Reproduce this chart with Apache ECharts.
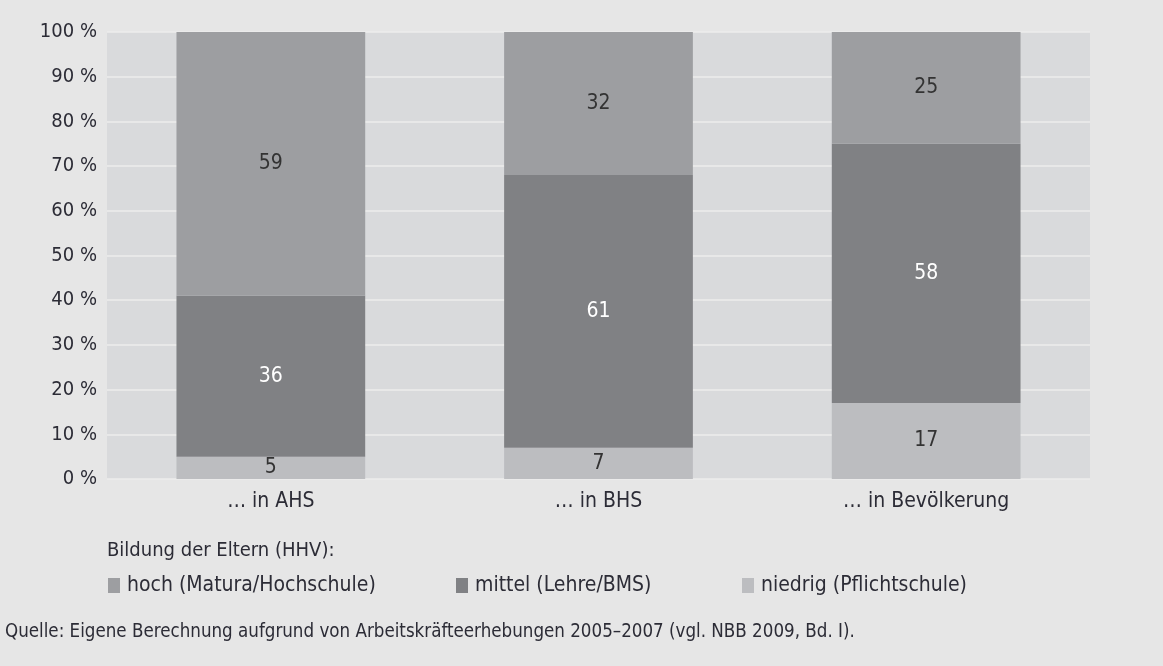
<!DOCTYPE html>
<html>
<head>
<meta charset="utf-8">
<script src="https://cdn.jsdelivr.net/npm/echarts@6/dist/echarts.min.js"></script>
<style>
html,body{margin:0;padding:0;background:#e6e6e6;}
#c{width:1163px;height:666px;}
</style>
</head>
<body>
<div id="c"></div>
<script>
const categories = ['… in AHS', '… in BHS', '… in Bevölkerung'];
const hoch = [59, 32, 25];
const mittel = [36, 61, 58];
const niedrig = [5, 7, 17];
const yTicks = [0, 10, 20, 30, 40, 50, 60, 70, 80, 90, 100];
const seriesNames = ['hoch (Matura/Hochschule)', 'mittel (Lehre/BMS)', 'niedrig (Pflichtschule)'];
const legendTitle = 'Bildung der Eltern (HHV):';
const source = 'Quelle: Eigene Berechnung aufgrund von Arbeitskräfteerhebungen 2005–2007 (vgl. NBB 2009, Bd. I).';

const FONT = '"Liberation Sans Narrow", "DejaVu Sans Condensed", sans-serif';
const TXT = '#2c2c36';
const colors = { hoch: '#9d9ea1', mittel: '#808184', niedrig: '#bcbdc0' };

const chart = echarts.init(document.getElementById('c'), null, { renderer: 'canvas' });

function mkLegend(name, left) {
  return {
    show: true, data: [name], left: left, top: 575,
    icon: 'rect', itemWidth: 12, itemHeight: 15, itemGap: 0,
    textStyle: { fontFamily: FONT, fontSize: 21, color: TXT, padding: [0, 0, 0, 2] },
    selectedMode: false, padding: 0
  };
}

function labelCfg(color) {
  return { show: true, position: 'inside', fontFamily: FONT, fontSize: 21, color: color };
}

chart.setOption({
  backgroundColor: '#e6e6e6',
  animation: false,
  title: [
    { text: legendTitle, left: 107, top: 541, padding: 0,
      textStyle: { fontFamily: FONT, fontSize: 20, fontWeight: 'normal', color: TXT } },
    { text: source, left: 5, top: 623, padding: 0,
      textStyle: { fontFamily: FONT, fontSize: 18.6, fontWeight: 'normal', color: TXT } }
  ],
  legend: [
    mkLegend(seriesNames[0], 108),
    mkLegend(seriesNames[1], 456),
    mkLegend(seriesNames[2], 742)
  ],
  grid: {
    left: 107, right: 73, top: 32, bottom: 187,
    show: true, backgroundColor: '#d9dadc', borderWidth: 0
  },
  xAxis: {
    type: 'category', data: categories,
    axisLine: { show: false }, axisTick: { show: false },
    axisLabel: { fontFamily: FONT, fontSize: 21, color: TXT, margin: 12 }
  },
  yAxis: {
    type: 'value', min: yTicks[0], max: yTicks[yTicks.length - 1], interval: yTicks[1] - yTicks[0],
    axisLine: { show: false }, axisTick: { show: false },
    axisLabel: { fontFamily: FONT, fontSize: 20, color: TXT, margin: 10, formatter: '{value} %' },
    splitLine: { show: true, lineStyle: { color: '#ededed', width: 1.5 } }
  },
  series: [
    { name: seriesNames[2], type: 'bar', stack: 's', data: niedrig, barWidth: '57.6%',
      itemStyle: { color: colors.niedrig }, label: labelCfg('#333333') },
    { name: seriesNames[1], type: 'bar', stack: 's', data: mittel, barWidth: '57.6%',
      itemStyle: { color: colors.mittel }, label: labelCfg('#ffffff') },
    { name: seriesNames[0], type: 'bar', stack: 's', data: hoch, barWidth: '57.6%',
      itemStyle: { color: colors.hoch }, label: labelCfg('#333333') }
  ]
});
</script>
</body>
</html>
